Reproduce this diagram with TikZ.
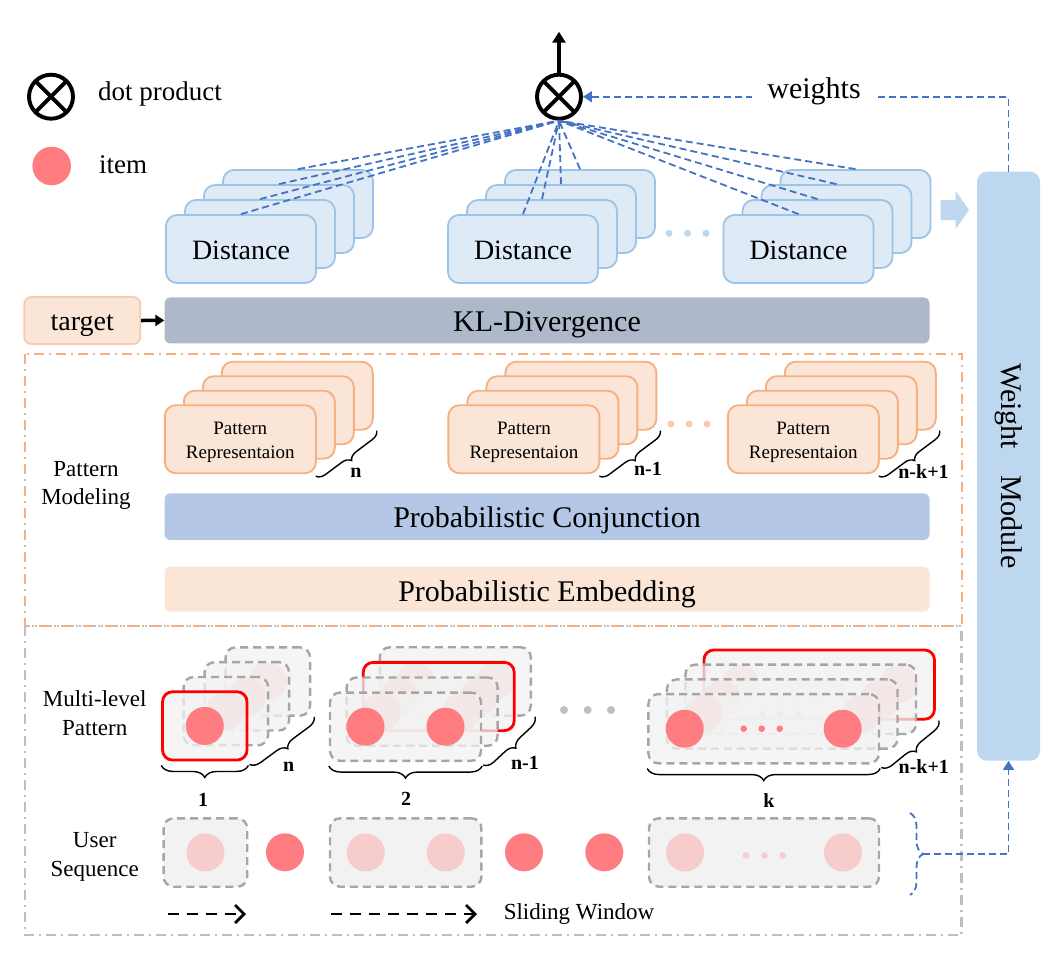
\documentclass[tikz,border=0pt]{standalone}
\usepackage{fontspec}
\setmainfont{Liberation Serif}
\usetikzlibrary{arrows.meta,decorations.pathreplacing,calc}
\definecolor{cSalm}{HTML}{FF7C80}
\definecolor{cDistF}{HTML}{DEEBF7}
\definecolor{cDistB}{HTML}{9DC3E6}
\definecolor{cPatF}{HTML}{FBE5D6}
\definecolor{cPatB}{HTML}{F4B183}
\definecolor{cTgtB}{HTML}{F8CBAD}
\definecolor{cKL}{HTML}{ADB9CA}
\definecolor{cConj}{HTML}{B4C7E7}
\definecolor{cWM}{HTML}{BDD7EE}
\definecolor{cBlue}{HTML}{4472C4}
\definecolor{cGrayB}{HTML}{A6A6A6}
\definecolor{cGrayF}{HTML}{F2F2F2}
\definecolor{cOut}{HTML}{BFBFBF}
\definecolor{cRed}{HTML}{FF0000}
\newcommand\fsLeg{\fontsize{27}{30}\selectfont}
\newcommand\fsBig{\fontsize{30}{34}\selectfont}
\newcommand\fsDist{\fontsize{28}{30}\selectfont}
\newcommand\fsPat{\fontsize{19}{23.7}\selectfont}
\newcommand\fsSide{\fontsize{23}{28.7}\selectfont}
\newcommand\fsNum{\fontsize{20}{24}\selectfont\bfseries}
\begin{document}
\begin{tikzpicture}[x=1pt,y=-1pt,
  otimes/.style={circle,draw=black,line width=3.9pt,minimum size=44pt,inner sep=0pt,
    path picture={\draw[line width=3.9pt] (path picture bounding box.north west) -- (path picture bounding box.south east)
      (path picture bounding box.north east) -- (path picture bounding box.south west);}},
  itemc/.style={circle,fill=cSalm,minimum size=38.6pt,inner sep=0pt},
  txt/.style={inner sep=0pt,font=\fsLeg},
  distbox/.style={draw=cDistB,fill=cDistF,line width=1.8pt,rounded corners=11pt,minimum width=150pt,minimum height=68pt,inner sep=0pt,font=\fsDist,text height=20pt,text depth=0pt},
  patbox/.style={draw=cPatB,fill=cPatF,line width=1.9pt,rounded corners=11pt,minimum width=151pt,minimum height=68pt,inner sep=0pt},
  pattxt/.style={font=\fsPat,align=center,inner sep=0pt},
  tbox/.style={draw=cTgtB,fill=cPatF,line width=1.8pt,rounded corners=7pt,minimum width=116pt,minimum height=47pt,inner sep=0pt,font=\fsDist,text height=19pt,text depth=0pt},
  bar/.style={rounded corners=6pt,minimum width=765pt,inner sep=0pt,font=\fsBig,text depth=0pt},
  wmbox/.style={fill=cWM,rounded corners=10pt,minimum width=63pt,minimum height=589pt,inner sep=0pt},
  bdash/.style={draw=cBlue,line width=1.8pt,dash pattern=on 7pt off 4pt},
  blk/.style={draw=black,line width=3.5pt},
  brc/.style={draw=black,line width=1.4pt,decorate},
  lbl/.style={font=\fsNum,inner sep=0pt},
  sidelbl/.style={font=\fsSide,align=center,inner sep=0pt},
  mlbox/.style={draw=cGrayB,line width=2.4pt,dash pattern=on 8pt off 5pt,fill=cGrayF,fill opacity=0.75,rounded corners=10pt,minimum height=68.3pt,inner sep=0pt},
  mlred/.style={draw=cRed,line width=2.8pt,fill=cGrayF,fill opacity=0.75,rounded corners=10pt,minimum height=68.3pt,inner sep=0pt},
  usbox/.style={draw=cGrayB,line width=2.4pt,dash pattern=on 8pt off 5pt,fill=cGrayF,rounded corners=10pt,minimum height=68.4pt,inner sep=0pt},
  faded/.style={fill=cSalm,fill opacity=0.32},
  solidc/.style={fill=cSalm},
  swarrow/.style={line width=2.8pt,dash pattern=on 11pt off 8pt,-{Straight Barb[length=9pt,width=18pt,line width=2.8pt]}}
]
\useasboundingbox (0,0) rectangle (1064,959);

% ---------- legend ----------
\node[otimes] (lgx) at (51,96.7) {};
\node[txt,anchor=base west] (lgxt) at (98,100) {dot product};
\node[itemc] (lgi) at (51.7,166) {};
\node[txt,anchor=base west] (lgit) at (99,173) {item};

% ---------- top product ----------
\node[otimes] (dp) at (559,96.7) {};
\coordinate (outp) at (559,31.7);
\draw[blk,-{Triangle[length=11pt,width=13pt]}] (dp.north) -- (outp);

% ---------- distance stacks ----------
\foreach \s/\cx in {1/241,2/523,3/798.5}{
  \foreach \k in {3,2,1}{
    \node[distbox] (d\s\k) at (\cx+19*\k,249-15*\k) {};
  }
  \node[distbox] (d\s0) at (\cx,249) {Distance};
}
\foreach \s in {1,2,3}{
  \foreach \k in {0,1,2,3}{
    \draw[bdash] (d\s\k.north) -- (dp.south);
  }
}
\foreach \x in {669,687.5,706}{\fill[cWM] (\x,233.3) circle (3.5pt);}

% ---------- weight module ----------
\fill[cWM] (940.5,200) -- (955.5,200) -- (955.5,190.7) -- (969,210) -- (955.5,229.3) -- (955.5,220) -- (940.5,220) -- cycle;
\node[wmbox] (wm) at (1008.5,466.2) {};
\node[rotate=-90,font=\fsBig,inner sep=0pt] (wmt) at (1008.5,466) {Weight\hspace{26pt}Module};
\draw[bdash,-{Triangle[length=9pt,width=11pt]}] (wm.north) |- (dp.east);
\node[font=\fsBig,fill=white,inner xsep=15pt,inner ysep=3pt,anchor=base] (wt) at (814,98) {weights};

% ---------- KL ----------
\node[tbox] (tg) at (82.3,320.5) {target};
\node[bar,fill=cKL,minimum height=46pt,text height=22.6pt] (kl) at (547,320.4) {KL-Divergence};
\draw[line width=3.5pt,-{Triangle[length=9pt,width=11pt]}] (tg.east) -- (kl.west);

% ---------- outer boxes ----------
\draw[cOut,line width=2.2pt,dash pattern=on 10pt off 5pt on 2pt off 5pt] (25,626) rectangle (961.5,935);
\draw[cPatB,line width=2.2pt,dash pattern=on 10pt off 5pt on 2pt off 5pt] (25,354.3) rectangle (961.7,626);

% ---------- pattern stacks ----------
\foreach \s/\cx in {1/240.3,2/523.9,3/803.3}{
  \foreach \k in {3,2,1,0}{
    \node[patbox] (p\s\k) at (\cx+19*\k,439.2-14.5*\k) {};
  }
  \node[pattxt] (p\s t) at (\cx,442.2) {Pattern\\Representaion};
}
\foreach \s in {1,2,3}{
  \draw[brc,decoration={brace,amplitude=9pt}] ($(p\s3.south east)+(3,0)$) -- ($(p\s0.south east)+(-1,2)$);
}
\node[lbl] (pn1) at (356,473) {n};
\node[lbl] (pn2) at (648,469) {n-1};
\node[lbl] (pn3) at (923.5,472) {n-k+1};
\foreach \x in {671,689,707}{\fill[cTgtB] (\x,424) circle (3.5pt);}

\node[sidelbl] (pm) at (86,485.5) {Pattern\\Modeling};
\node[bar,fill=cConj,minimum height=46.7pt,text height=21.2pt] (pc) at (547,516.7) {Probabilistic Conjunction};
\node[bar,fill=cPatF,minimum height=45pt,text height=23.6pt] (pe) at (547,589.2) {Probabilistic Embedding};

% ---------- multi-level pattern ----------
\node[sidelbl] (mlp) at (94.7,713) {Multi-level\\Pattern};
% stack 1
\node[mlbox,minimum width=84.5pt] (m13) at (267.8,681.5) {};
\fill[faded] (m13.center) circle (19pt);
\node[mlbox,minimum width=84.5pt] (m12) at (246.8,696.3) {};
\fill[faded] (m12.center) circle (19pt);
\node[mlbox,minimum width=84.5pt] (m11) at (225.8,711.1) {};
\fill[faded] (m11.center) circle (19pt);
\node[mlred,minimum width=84.5pt] (m10) at (204.8,725.9) {};
\fill[solidc] (m10.center) circle (19pt);
% stack 2
\node[mlbox,minimum width=151pt] (m23) at (455.3,681.4) {};
\fill[faded] ($(m23.center)+(-40,0)$) circle (19pt) ($(m23.center)+(40,0)$) circle (19pt);
\node[mlred,minimum width=151pt] (m22) at (438.7,696.5) {};
\fill[faded] ($(m22.center)+(-40,0)$) circle (19pt) ($(m22.center)+(40,0)$) circle (19pt);
\node[mlbox,minimum width=151pt] (m21) at (422.1,711.6) {};
\fill[faded] ($(m21.center)+(-40,0)$) circle (19pt) ($(m21.center)+(40,0)$) circle (19pt);
\node[mlbox,minimum width=151pt] (m20) at (405.5,726.7) {};
\fill[solidc] ($(m20.center)+(-40,0)$) circle (19pt) ($(m20.center)+(40,0)$) circle (19pt);
% stack 3
\node[mlred,minimum width=230.6pt,minimum height=69.3pt] (m33) at (819.2,684.6) {};
\fill[faded] ($(m33.center)+(-79,0)$) circle (19pt) ($(m33.center)+(79,0)$) circle (19pt);
\foreach \d in {-20,-2,16}{\fill[faded] ($(m33.center)+(\d,0)$) circle (3.3pt);}
\node[mlbox,minimum width=230.6pt,minimum height=69.3pt] (m32) at (800.7,699.3) {};
\fill[faded] ($(m32.center)+(-79,0)$) circle (19pt) ($(m32.center)+(79,0)$) circle (19pt);
\foreach \d in {-20,-2,16}{\fill[faded] ($(m32.center)+(\d,0)$) circle (3.3pt);}
\node[mlbox,minimum width=230.6pt,minimum height=69.3pt] (m31) at (782.2,714) {};
\fill[faded] ($(m31.center)+(-79,0)$) circle (19pt) ($(m31.center)+(79,0)$) circle (19pt);
\foreach \d in {-20,-2,16}{\fill[faded] ($(m31.center)+(\d,0)$) circle (3.3pt);}
\node[mlbox,minimum width=230.6pt,minimum height=69.3pt] (m30) at (763.7,728.7) {};
\fill[solidc] ($(m30.center)+(-79,0)$) circle (19pt) ($(m30.center)+(79,0)$) circle (19pt);
\foreach \d in {-20,-2,16}{\fill[solidc] ($(m30.center)+(\d,0)$) circle (3.3pt);}
\foreach \x in {564,587.6,611}{\fill[cOut] (\x,710) circle (4pt);}

% braces for multi-level pattern
\draw[brc,decoration={brace,amplitude=12pt}] ($(m10.south east)+(0,4)$) -- ($(m10.south west)+(0,4)$);
\draw[brc,decoration={brace,amplitude=10pt}] ($(m13.south east)+(3,0)$) -- ($(m10.south east)+(1,3)$);
\draw[brc,decoration={brace,amplitude=12pt}] ($(m20.south east)+(0,4)$) -- ($(m20.south west)+(0,4)$);
\draw[brc,decoration={brace,amplitude=10pt}] ($(m23.south east)+(3,0)$) -- ($(m20.south east)+(1,3)$);
\draw[brc,decoration={brace,amplitude=12pt}] ($(m30.south east)+(0,4)$) -- ($(m30.south west)+(0,4)$);
\draw[brc,decoration={brace,amplitude=10pt}] ($(m33.south east)+(3,0)$) -- ($(m30.south east)+(1,3)$);
\node[lbl] (b1) at (203,800) {1};
\node[lbl] (bn) at (288.6,766.7) {n};
\node[lbl] (b2) at (406,799) {2};
\node[lbl] (bn1) at (525,763) {n-1};
\node[lbl] (bk) at (768.8,801) {k};
\node[lbl] (bnk) at (923.8,766.7) {n-k+1};

% ---------- user sequence ----------
\node[sidelbl] (us) at (94.7,857) {User\\Sequence};
\node[usbox,minimum width=83.6pt] (u1) at (205.4,852.5) {};
\fill[faded] (u1.center) circle (19pt);
\node[solidc,circle,minimum size=38pt,inner sep=0pt] (c1) at (285,852.3) {};
\node[usbox,minimum width=151.4pt] (u2) at (405.7,852.5) {};
\fill[faded] ($(u2.center)+(-40,0)$) circle (19pt) ($(u2.center)+(40,0)$) circle (19pt);
\node[solidc,circle,minimum size=38pt,inner sep=0pt] (c2) at (524,852.3) {};
\node[solidc,circle,minimum size=38pt,inner sep=0pt] (c3) at (604.3,852.3) {};
\node[usbox,minimum width=230pt] (u3) at (764,852.5) {};
\fill[faded] ($(u3.center)+(-79,0)$) circle (19pt) ($(u3.center)+(79,0)$) circle (19pt);
\foreach \d in {-18,0.6,18.7}{\fill[faded] ($(u3.center)+(\d,3)$) circle (3.3pt);}

% sliding window
\coordinate (s1a) at (167.7,914);
\coordinate (s1b) at (246,914);
\coordinate (s2a) at (331,914);
\coordinate (s2b) at (477,914);
\draw[swarrow] (s1a) -- (s1b);
\draw[swarrow] (s2a) -- (s2b);
\node[font=\fsSide,inner sep=0pt] (swt) at (579,913.5) {Sliding Window};

% blue brace to weight module
\coordinate (bb1) at (910,813);
\coordinate (bb2) at (910,895);
\draw[bdash,decorate,decoration={brace,amplitude=13pt}] (bb1) -- (bb2);
\coordinate (bt) at (923,854);
\draw[bdash,-{Triangle[length=9pt,width=11pt]}] (bt) -| (wm.south);
\end{tikzpicture}
\end{document}
